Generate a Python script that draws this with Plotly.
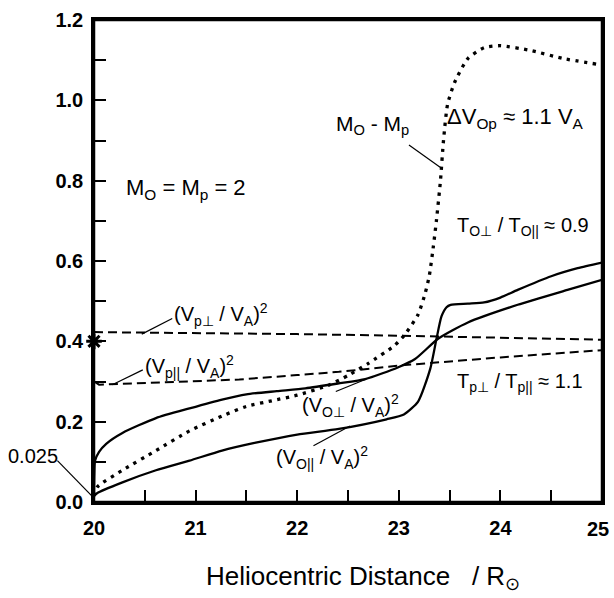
import plotly.graph_objects as go

# ---- data ----
x_operp = [20.0, 20.003, 20.01, 20.05, 20.12, 20.28, 20.61, 20.94, 21.26, 21.5, 21.8, 22.08, 22.4, 22.67, 22.99, 23.16, 23.39, 23.68, 24.17, 24.66, 25.0]
y_operp = [0.02, 0.07, 0.103, 0.125, 0.145, 0.172, 0.209, 0.233, 0.255, 0.268, 0.276, 0.283, 0.295, 0.306, 0.335, 0.356, 0.407, 0.447, 0.491, 0.528, 0.553]

x_opar = [20.0, 20.03, 20.28, 20.61, 20.94, 21.26, 21.58, 22.0, 22.41, 22.88, 23.05, 23.19, 23.31, 23.37, 23.42, 23.47, 23.51, 23.68, 23.84, 24.0, 24.17, 24.5, 24.76, 25.0]
y_opar = [0.015, 0.022, 0.049, 0.079, 0.103, 0.128, 0.147, 0.168, 0.182, 0.206, 0.218, 0.25, 0.332, 0.405, 0.462, 0.485, 0.491, 0.494, 0.497, 0.509, 0.528, 0.562, 0.582, 0.596]

x_mdiff = [20.0, 20.03, 20.28, 20.61, 20.94, 21.26, 21.5, 21.75, 22.0, 22.3, 22.5, 22.7, 22.96, 23.06, 23.19, 23.26, 23.3, 23.34, 23.37, 23.41, 23.44, 23.48, 23.55, 23.68, 23.84, 24.0, 24.3, 24.62, 24.95]
y_mdiff = [0.015, 0.037, 0.079, 0.128, 0.177, 0.214, 0.238, 0.252, 0.266, 0.29, 0.315, 0.345, 0.39, 0.417, 0.467, 0.52, 0.563, 0.636, 0.7, 0.8, 0.9, 0.99, 1.045, 1.104, 1.131, 1.136, 1.124, 1.104, 1.09]

x_pperp = [20.0, 21.0, 22.0, 23.0, 24.0, 25.0]
y_pperp = [0.423, 0.421, 0.418, 0.414, 0.409, 0.404]

x_ppar = [20.0, 20.0, 20.05, 21.0, 21.43, 22.0, 22.41, 23.06, 24.0, 25.0]
y_ppar = [0.40, 0.30, 0.292, 0.302, 0.305, 0.316, 0.324, 0.341, 0.36, 0.378]

x_ticks = [20, 21, 22, 23, 24, 25]
y_ticks = [0.0, 0.2, 0.4, 0.6, 0.8, 1.0, 1.2]

fig = go.Figure()

fig.add_trace(go.Scatter(x=x_pperp, y=y_pperp, mode="lines",
                         line=dict(color="black", width=2, dash="9px,5px")))
fig.add_trace(go.Scatter(x=x_ppar, y=y_ppar, mode="lines",
                         line=dict(color="black", width=2, dash="9px,5px")))
fig.add_trace(go.Scatter(x=x_mdiff, y=y_mdiff, mode="lines",
                         line=dict(color="black", width=3.3, dash="3.3px,5.5px", shape="spline", smoothing=0.6)))
fig.add_trace(go.Scatter(x=x_operp, y=y_operp, mode="lines",
                         line=dict(color="black", width=2.3, shape="spline", smoothing=0.6)))
fig.add_trace(go.Scatter(x=x_opar, y=y_opar, mode="lines",
                         line=dict(color="black", width=2.3, shape="spline", smoothing=0.6)))
fig.add_trace(go.Scatter(x=[20.0], y=[0.40], mode="markers", cliponaxis=False,
                         marker=dict(symbol="asterisk-open", size=13, color="black",
                                     line=dict(color="black", width=3))))

FONT = "Liberation Sans, Arial, sans-serif"

labels = [
    (20.30, 0.779, "M<sub>O</sub> = M<sub>p</sub> = 2", 22),
    (22.36, 0.939, "M<sub>O</sub> - M<sub>p</sub>", 21),
    (23.45, 0.956, "ΔV<sub>Op</sub> ≈ 1.1 V<sub>A</sub>", 22),
    (23.55, 0.686, "T<sub>O⊥</sub> / T<sub>O||</sub> ≈ 0.9", 20),
    (23.55, 0.297, "T<sub>p⊥</sub> / T<sub>p||</sub> ≈ 1.1", 20),
    (20.77, 0.467, "(V<sub>p⊥</sub> / V<sub>A</sub>)<sup>2</sup>", 20),
    (20.48, 0.337, "(V<sub>p||</sub> / V<sub>A</sub>)<sup>2</sup>", 20),
    (22.03, 0.241, "(V<sub>O⊥</sub> / V<sub>A</sub>)<sup>2</sup>", 20),
    (21.77, 0.110, "(V<sub>O||</sub> / V<sub>A</sub>)<sup>2</sup>", 20),
]
for lx, ly, t, fs in labels:
    fig.add_annotation(x=lx, y=ly, xref="x", yref="y", text=t, showarrow=False,
                       xanchor="left", yanchor="middle",
                       font=dict(family=FONT, size=fs, color="black"))

# "0.025" sits left of the y axis -> paper coordinates
fig.add_annotation(x=(19.13 - 20) / 5, y=0.115 / 1.2, xref="paper", yref="paper",
                   text="0.025", showarrow=False, xanchor="left", yanchor="middle",
                   font=dict(family=FONT, size=20, color="black"))

leaders = [
    (23.10, 0.889, 23.41, 0.833),
    (20.77, 0.457, 20.47, 0.418),
    (20.48, 0.329, 20.18, 0.292),
    (22.38, 0.275, 22.67, 0.305),
    (22.16, 0.140, 22.52, 0.189),
]
for x0, y0, x1, y1 in leaders:
    fig.add_shape(type="line", xref="x", yref="y", x0=x0, y0=y0, x1=x1, y1=y1,
                  line=dict(color="black", width=1.2))
fig.add_shape(type="line", xref="paper", yref="paper",
              x0=(19.64 - 20) / 5, y0=0.103 / 1.2, x1=(19.99 - 20) / 5, y1=0.012 / 1.2,
              line=dict(color="black", width=1.2))
# frame
fig.add_shape(type="rect", xref="paper", yref="paper", x0=0, y0=0, x1=1, y1=1,
              line=dict(color="black", width=2.5), fillcolor="rgba(0,0,0,0)")

fig.add_annotation(x=0.53, y=-0.156, xref="paper", yref="paper", showarrow=False,
                   text="Heliocentric Distance\u00a0\u00a0\u00a0/ R<sub>⊙</sub>",
                   xanchor="center", yanchor="middle",
                   font=dict(family=FONT, size=26, color="black"))

tickfont = dict(family=FONT, size=20, color="black", weight="bold")
# last x label drawn as an annotation, nudged so it stays inside the page
fig.add_annotation(x=1.0, y=0, xref="paper", yref="paper", text=str(x_ticks[-1]),
                   showarrow=False, xanchor="center", yanchor="top", xshift=-4, yshift=-14,
                   font=tickfont)

fig.update_xaxes(range=[20, 25], tickvals=x_ticks,
                 ticktext=[str(v) for v in x_ticks[:-1]] + [""],
                 ticks="inside", ticklen=12, tickwidth=2, tickcolor="black",
                 showline=True, linewidth=2.5, linecolor="black", mirror=True,
                 showgrid=False, zeroline=False, tickfont=tickfont, ticklabelstandoff=6,
                 minor=dict(tickvals=[20.5, 21.5, 22.5, 23.5, 24.5], ticks="inside",
                            ticklen=12, tickwidth=2, tickcolor="black", showgrid=False))
fig.update_yaxes(range=[0, 1.2], tickvals=y_ticks, ticktext=[f"{v:.1f}" for v in y_ticks],
                 ticks="inside", ticklen=12, tickwidth=2, tickcolor="black",
                 showline=True, linewidth=2.5, linecolor="black", mirror=True,
                 showgrid=False, zeroline=False, tickfont=tickfont, ticklabelstandoff=4,
                 minor=dict(tickvals=[0.1, 0.3, 0.5, 0.7, 0.9, 1.1], ticks="inside",
                            ticklen=12, tickwidth=2, tickcolor="black", showgrid=False))

fig.update_layout(width=614, height=598, margin=dict(l=94, r=9, t=13, b=96),
                  paper_bgcolor="white", plot_bgcolor="white", showlegend=False,
                  font=dict(family=FONT, color="black"))

# remove the default page margin so the figure fills the window exactly
fig.write_html("out.html", config={"displayModeBar": False},
               post_script="document.body.style.margin='0';document.body.style.overflow='hidden';")
